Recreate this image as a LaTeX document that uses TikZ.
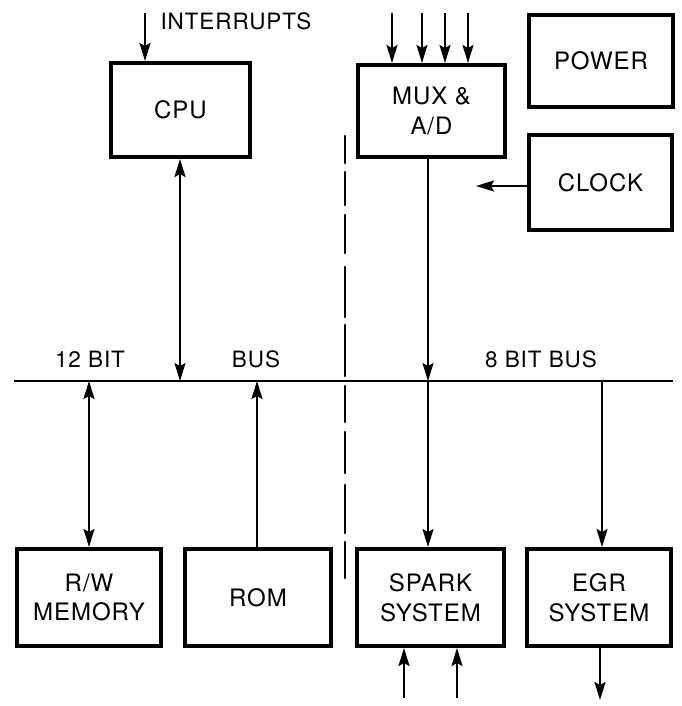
\documentclass[tikz,border=0pt]{standalone}
\usepackage{fontspec}
\setmainfont{TeX Gyre Heros}[LetterSpace=4]
\usetikzlibrary{arrows.meta}
\begin{document}
\begin{tikzpicture}[x=1pt,y=-1pt,
  blk/.style={draw, line width=4pt, inner sep=0pt, align=center,
    font=\fontsize{24}{29.5}\selectfont},
  lbl/.style={inner sep=0pt, font=\fontsize{22.5}{26}\selectfont},
  wire/.style={line width=2.2pt},
  tip/.style={-{Stealth[length=18pt,width=11pt,inset=3pt]}},
  tipb/.style={{Stealth[length=18pt,width=11pt,inset=3pt]}-{Stealth[length=18pt,width=11pt,inset=3pt]}},
  sep/.style={line width=2.6pt, line cap=round}]
\useasboundingbox (0,0) rectangle (681,706);

% blocks
\node[blk, minimum width=139pt, minimum height=94pt] (cpu) at (180.5,110) {CPU};
\node[blk, minimum width=147pt, minimum height=92pt] (mux) at (431.5,111) {MUX \&\\A/D};
\node[blk, minimum width=144pt, minimum height=92pt] (power) at (601,61) {POWER};
\node[blk, minimum width=143pt, minimum height=95pt] (clock) at (600.5,182.5) {CLOCK};
\node[blk, minimum width=144pt, minimum height=97pt] (rw) at (89,597.5) {R/W\\MEMORY};
\node[blk, minimum width=146pt, minimum height=97pt] (rom) at (258,597.5) {ROM};
\node[blk, minimum width=147pt, minimum height=97pt] (spark) at (430.5,597.5) {SPARK\\SYSTEM};
\node[blk, minimum width=144pt, minimum height=97pt] (egr) at (599,597.5) {EGR\\SYSTEM};

% bus
\coordinate (busL) at (14,381);
\coordinate (busR) at (673,381);
\draw[wire] (busL) -- (busR);

% labels
\node[lbl] (intl) at (236,21) {INTERRUPTS};
\node[lbl] (b12) at (90,359) {12 BIT};
\node[lbl] (bbus) at (256,359) {BUS};
\node[lbl] (b8) at (541,359) {8 BIT BUS};

% interrupts
\coordinate (intin) at (145,13);
\draw[wire,tip] (intin) -- (intin |- cpu.north);

% CPU <-> bus
\draw[wire,tipb] (cpu.south -| 180,0) -- (180,381);

% MUX inputs
\foreach \x/\n in {392/a,422/b,445/c,468/d}{
  \coordinate (mi\n) at (\x,13);
  \draw[wire,tip] (mi\n) -- (mi\n |- mux.north);
}

% MUX -> bus -> spark
\coordinate (mb) at (428,381);
\draw[wire,tip] (mux.south -| mb) -- (mb);
\draw[wire,tip] (mb) -- (mb |- spark.north);

% clock
\coordinate (clkend) at (476,186);
\draw[wire,tip] (clock.west |- clkend) -- (clkend);

% bus <-> R/W memory
\coordinate (rb) at (89,381);
\draw[wire,tipb] (rb) -- (rb |- rw.north);

% ROM -> bus
\coordinate (romb) at (257,381);
\draw[wire,tip] (romb |- rom.north) -- (romb);

% bus -> EGR
\coordinate (eb) at (602,381);
\draw[wire,tip] (eb) -- (eb |- egr.north);

% spark inputs
\coordinate (si1) at (404,698);
\coordinate (si2) at (457,698);
\draw[wire,tip] (si1) -- (si1 |- spark.south);
\draw[wire,tip] (si2) -- (si2 |- spark.south);

% EGR output
\coordinate (eo) at (600,700);
\draw[wire,tip] (eo |- egr.south) -- (eo);

% dashed separator
\draw[sep] (345,136) -- (345,163) (345,172) -- (345,205) (345,215) -- (345,253)
  (345,267) -- (345,317) (345,325) -- (345,376) (345,386) -- (345,422)
  (345,432) -- (345,473) (345,485) -- (345,533) (345,542) -- (345,578);
\end{tikzpicture}
\end{document}
